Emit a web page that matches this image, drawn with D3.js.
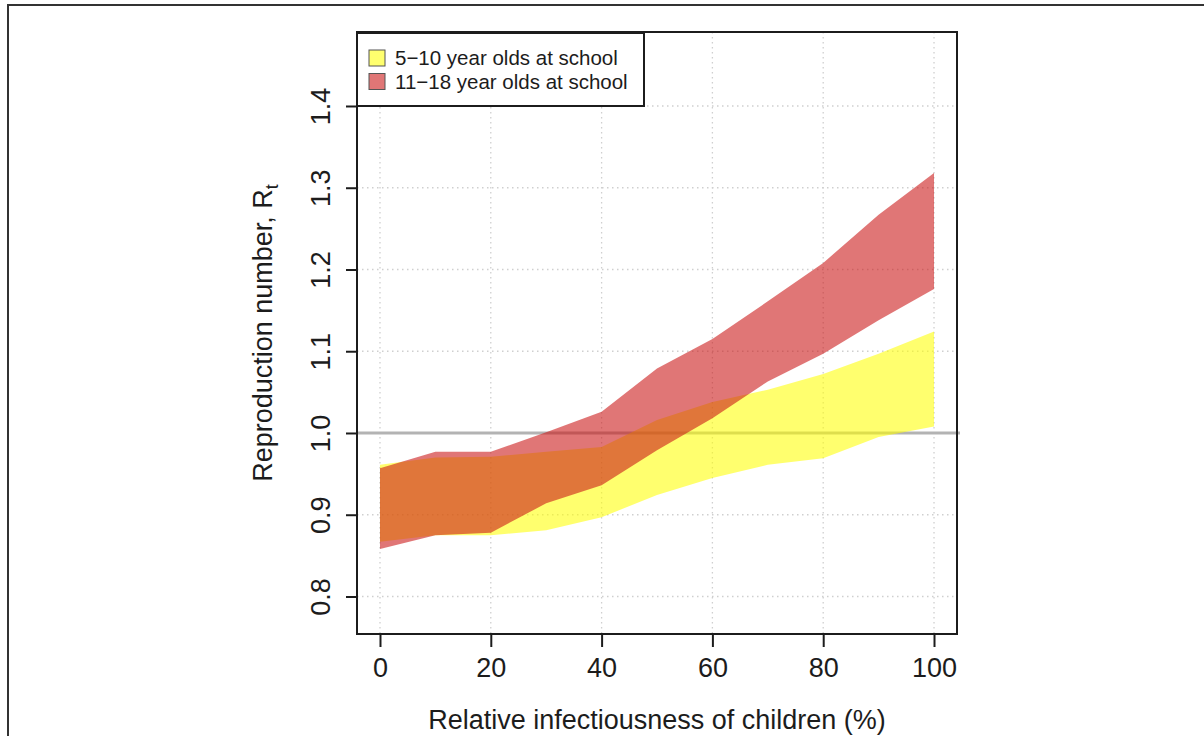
<!DOCTYPE html>
<html>
<head>
<meta charset="utf-8">
<script src="https://cdn.jsdelivr.net/npm/d3@7"></script>
<style>
html,body{margin:0;padding:0;background:#fff;}
svg{display:block;font-family:"Liberation Sans",Arial,Helvetica,sans-serif;}
</style>
</head>
<body>
<svg id="chart" width="1204" height="736"></svg>
<script>
// ---- data ----
const infectiousness = [0, 10, 20, 30, 40, 50, 60, 70, 80, 90, 100];
const primaryLower   = [0.867, 0.875, 0.875, 0.881, 0.897, 0.924, 0.945, 0.961, 0.969, 0.995, 1.008];
const primaryUpper   = [0.961, 0.970, 0.971, 0.977, 0.983, 1.016, 1.038, 1.053, 1.072, 1.097, 1.124];
const secondaryLower = [0.858, 0.875, 0.878, 0.914, 0.936, 0.979, 1.018, 1.063, 1.097, 1.138, 1.176];
const secondaryUpper = [0.957, 0.977, 0.977, 1.001, 1.026, 1.079, 1.115, 1.161, 1.208, 1.267, 1.318];
const xTicks = [0, 20, 40, 60, 80, 100];
const yTicks = [0.8, 0.9, 1.0, 1.1, 1.2, 1.3, 1.4];
const seriesNames = ["5\u221210 year olds at school", "11\u221218 year olds at school"];
const refLine = 1.0;

// ---- layout ----
const box = {left: 357, right: 957, top: 32, bottom: 634};
const svg = d3.select("#chart");
const ink = "#1c1c1c";
const fillY = "rgba(255,255,0,0.57)";
const fillR = "rgba(203,22,22,0.59)";

const x = d3.scaleLinear().domain([-4.15, 104.15]).range([box.left, box.right]);
const y = d3.scaleLinear().domain([0.7541, 1.4905]).range([box.bottom, box.top]);

// outer frame (clipped by page)
svg.append("path")
  .attr("d", `M8,740 L8,5 L1210,5`)
  .attr("fill", "none").attr("stroke", "#333").attr("stroke-width", 2);

// grid
const grid = svg.append("g").attr("stroke", "#cfcfcf").attr("stroke-width", 1.3)
  .attr("stroke-dasharray", "1.5,3.5").attr("fill", "none");
grid.selectAll(".gx").data(xTicks).join("line")
  .attr("x1", d => x(d)).attr("x2", d => x(d))
  .attr("y1", box.top).attr("y2", box.bottom);
grid.selectAll(".gy").data(yTicks).join("line")
  .attr("y1", d => y(d)).attr("y2", d => y(d))
  .attr("x1", box.left).attr("x2", box.right);

// reference line at R = 1
svg.append("line")
  .attr("x1", box.left).attr("x2", box.right + 3)
  .attr("y1", y(refLine)).attr("y2", y(refLine))
  .attr("stroke", "#b3b3b3").attr("stroke-width", 3);

// bands
const area = (lo, hi) => d3.area()
  .x((d, i) => x(infectiousness[i]))
  .y0((d, i) => y(lo[i]))
  .y1((d, i) => y(hi[i]))(infectiousness);

svg.append("path").attr("d", area(primaryLower, primaryUpper)).attr("fill", fillY);
svg.append("path").attr("d", area(secondaryLower, secondaryUpper)).attr("fill", fillR);

// plot box
svg.append("rect")
  .attr("x", box.left).attr("y", box.top)
  .attr("width", box.right - box.left).attr("height", box.bottom - box.top)
  .attr("fill", "none").attr("stroke", ink).attr("stroke-width", 2);

// x axis
const xAxis = d3.axisBottom(x).tickValues(xTicks).tickSize(12).tickPadding(11).tickFormat(d3.format("d"));
const gx = svg.append("g").attr("transform", `translate(0,${box.bottom + 1})`).call(xAxis);
gx.select(".domain").remove();
gx.selectAll(".tick line").attr("stroke", ink).attr("stroke-width", 2);
gx.selectAll(".tick text").attr("fill", ink).attr("font-size", 27)
  .attr("font-family", "Liberation Sans, Arial, sans-serif");

// y axis
const yAxis = d3.axisLeft(y).tickValues(yTicks).tickSize(11).tickFormat(d3.format(".1f"));
const gy = svg.append("g").attr("transform", `translate(${box.left},0)`).call(yAxis);
gy.select(".domain").remove();
gy.selectAll(".tick line").attr("stroke", ink).attr("stroke-width", 2);
gy.selectAll(".tick text")
  .attr("fill", ink).attr("font-size", 27)
  .attr("font-family", "Liberation Sans, Arial, sans-serif")
  .attr("x", null).attr("dy", null)
  .attr("text-anchor", "middle")
  .attr("transform", "translate(-27,0) rotate(-90)");

// axis titles
svg.append("text")
  .attr("x", (box.left + box.right) / 2).attr("y", 729)
  .attr("text-anchor", "middle").attr("font-size", 27).attr("fill", ink)
  .text("Relative infectiousness of children (%)");

const yl = svg.append("text")
  .attr("transform", `translate(272,${(box.top + box.bottom) / 2}) rotate(-90)`)
  .attr("text-anchor", "middle").attr("font-size", 27).attr("fill", ink);
yl.append("tspan").text("Reproduction number, R");
yl.append("tspan").attr("font-size", 18).attr("dy", 6).text("t");

// legend
const lg = svg.append("g");
lg.append("rect").attr("x", box.left).attr("y", 33).attr("width", 287).attr("height", 73)
  .attr("fill", "#fff").attr("stroke", ink).attr("stroke-width", 2);
const fills = [fillY, fillR];
seriesNames.forEach((name, i) => {
  lg.append("rect").attr("x", 369).attr("y", 50 + i * 23.5).attr("width", 16).attr("height", 16)
    .attr("fill", fills[i]).attr("stroke", "#555").attr("stroke-width", 1);
  lg.append("text").attr("x", 395).attr("y", 65 + i * 23.5)
    .attr("font-size", 20.5).attr("fill", ink).text(name);
});
</script>
</body>
</html>
